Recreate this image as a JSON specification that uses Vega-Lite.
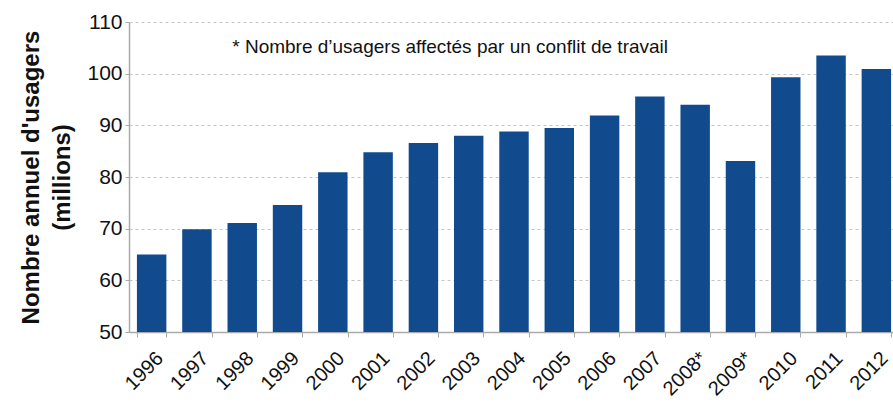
{
  "$schema": "https://vega.github.io/schema/vega-lite/v6.json",
  "autosize": {"type": "none"},
  "padding": {"left": 129, "top": 22, "right": 0, "bottom": 72},
  "width": 764,
  "height": 310,
  "background": "white",
  "config": {
    "font": "Liberation Sans",
    "view": {"stroke": null}
  },
  "data": {
    "values": [
      {"annee": "1996", "usagers": 65.0},
      {"annee": "1997", "usagers": 69.9},
      {"annee": "1998", "usagers": 71.1},
      {"annee": "1999", "usagers": 74.6},
      {"annee": "2000", "usagers": 80.9},
      {"annee": "2001", "usagers": 84.8},
      {"annee": "2002", "usagers": 86.6},
      {"annee": "2003", "usagers": 88.0},
      {"annee": "2004", "usagers": 88.8},
      {"annee": "2005", "usagers": 89.5},
      {"annee": "2006", "usagers": 91.9},
      {"annee": "2007", "usagers": 95.6},
      {"annee": "2008*", "usagers": 94.0},
      {"annee": "2009*", "usagers": 83.1},
      {"annee": "2010", "usagers": 99.3},
      {"annee": "2011", "usagers": 103.5},
      {"annee": "2012", "usagers": 100.9}
    ]
  },
  "layer": [
    {
      "mark": {"type": "bar", "color": "#114b8e", "clip": true},
      "encoding": {
        "x": {
          "field": "annee",
          "type": "nominal",
          "sort": null,
          "scale": {"range": [0, 770], "paddingInner": 0.35, "paddingOuter": 0.175},
          "axis": {
            "title": null,
            "labelAngle": -45,
            "labelAlign": "right",
            "labelBaseline": "middle",
            "labelFontSize": 20,
            "labelColor": "#111",
            "labelPadding": 18,
            "labelOffset": 8,
            "labelOverlap": false,
            "labelBound": false,
            "labelFlush": false,
            "tickBand": "extent",
            "tickColor": "#aaa",
            "tickSize": 5,
            "domainColor": "#aaa",
            "domainWidth": 1.5,
            "grid": false
          }
        },
        "y": {
          "field": "usagers",
          "type": "quantitative",
          "scale": {"domain": [50, 110], "nice": false, "zero": false},
          "axis": {
            "values": [50, 60, 70, 80, 90, 100, 110],
            "title": ["Nombre annuel d'usagers", "(millions)"],
            "titleFontSize": 24,
            "titleFontWeight": "bold",
            "titleColor": "#111",
            "titleLineHeight": 31,
            "titlePadding": 12,
            "labelFontSize": 21,
            "labelColor": "#111",
            "labelPadding": 3,
            "tickColor": "#aaa",
            "tickSize": 4,
            "domainColor": "#aaa",
            "domainWidth": 1.5,
            "grid": true,
            "gridColor": "#c4c4c4",
            "gridDash": [3, 3],
            "gridWidth": 1
          }
        }
      }
    },
    {
      "data": {"values": [{"annee": "1998", "usagers": 105.2, "note": "* Nombre d’usagers affectés par un conflit de travail"}]},
      "mark": {"type": "text", "align": "left", "baseline": "middle", "fontSize": 19, "color": "#111", "dx": -10},
      "encoding": {
        "x": {"field": "annee", "type": "nominal"},
        "y": {"field": "usagers", "type": "quantitative"},
        "text": {"field": "note"}
      }
    }
  ]
}
